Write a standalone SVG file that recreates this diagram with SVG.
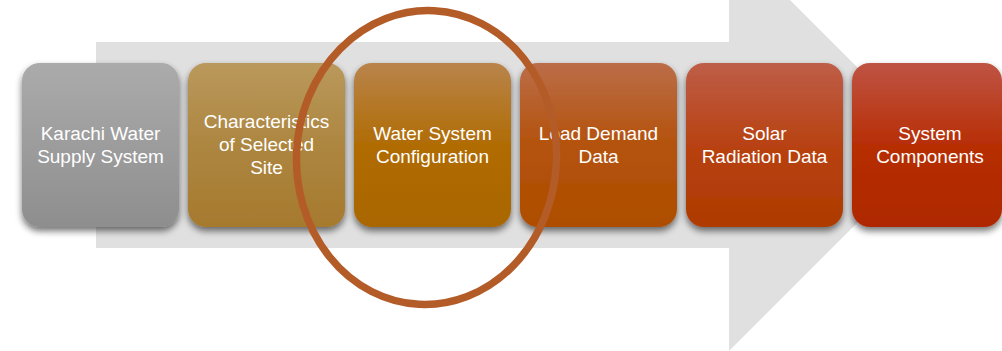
<svg xmlns="http://www.w3.org/2000/svg" width="1002" height="351" viewBox="0 0 1002 351">
  <defs>
    <linearGradient id="g1" x1="0" y1="0" x2="0" y2="1">
      <stop offset="0" stop-color="#ababab"/>
      <stop offset="1" stop-color="#8e8e8e"/>
    </linearGradient>
    <linearGradient id="g2" x1="0" y1="0" x2="0" y2="1">
      <stop offset="0" stop-color="#ba995c"/>
      <stop offset="0.5" stop-color="#ad8640"/>
      <stop offset="1" stop-color="#a67a2e"/>
    </linearGradient>
    <linearGradient id="g3" x1="0" y1="0" x2="0" y2="1">
      <stop offset="0" stop-color="#b9844c"/>
      <stop offset="0.5" stop-color="#b06c04"/>
      <stop offset="1" stop-color="#aa6600"/>
    </linearGradient>
    <linearGradient id="g4" x1="0" y1="0" x2="0" y2="1">
      <stop offset="0" stop-color="#bb6d48"/>
      <stop offset="0.5" stop-color="#b4520c"/>
      <stop offset="1" stop-color="#ae4e00"/>
    </linearGradient>
    <linearGradient id="g5" x1="0" y1="0" x2="0" y2="1">
      <stop offset="0" stop-color="#be5e48"/>
      <stop offset="0.5" stop-color="#b84212"/>
      <stop offset="1" stop-color="#ae3a00"/>
    </linearGradient>
    <linearGradient id="g6" x1="0" y1="0" x2="0" y2="1">
      <stop offset="0" stop-color="#bf5444"/>
      <stop offset="0.5" stop-color="#b72e06"/>
      <stop offset="1" stop-color="#ae2800"/>
    </linearGradient>
    <filter id="shadow" x="-20%" y="-20%" width="140%" height="150%">
      <feGaussianBlur in="SourceAlpha" stdDeviation="3.5"/>
      <feOffset dx="0" dy="4" result="b"/>
      <feComponentTransfer>
        <feFuncA type="linear" slope="0.55"/>
      </feComponentTransfer>
      <feMerge>
        <feMergeNode/>
        <feMergeNode in="SourceGraphic"/>
      </feMerge>
    </filter>
  </defs>
  <style>
    .box { filter: url(#shadow); }
    .label { font-family: "Liberation Sans", Arial, sans-serif; font-size: 19px; fill: #ffffff; text-anchor: middle; }
  </style>

  <!-- background process arrow -->
  <path id="arrow" d="M96,42 L729,42 L729,-61 L935,145 L729,351 L729,248 L96,248 Z" fill="#e0e0e0"/>

  <g id="node-karachi">
    <rect class="box" x="22" y="63" width="157" height="164" rx="18" fill="url(#g1)"/>
    <text class="label" x="100.5" y="140">Karachi Water</text>
    <text class="label" x="100.5" y="163">Supply System</text>
  </g>

  <g id="node-site">
    <rect class="box" x="188" y="63" width="157" height="164" rx="18" fill="url(#g2)"/>
    <text class="label" x="266.5" y="128">Characteristics</text>
    <text class="label" x="266.5" y="151">of Selected</text>
    <text class="label" x="266.5" y="174">Site</text>
  </g>

  <g id="node-config">
    <rect class="box" x="354" y="63" width="157" height="164" rx="18" fill="url(#g3)"/>
    <text class="label" x="432.5" y="140">Water System</text>
    <text class="label" x="432.5" y="163">Configuration</text>
  </g>

  <g id="node-load">
    <rect class="box" x="520" y="63" width="157" height="164" rx="18" fill="url(#g4)"/>
    <text class="label" x="598.5" y="140">Load Demand</text>
    <text class="label" x="598.5" y="163">Data</text>
  </g>

  <g id="node-solar">
    <rect class="box" x="686" y="63" width="157" height="164" rx="18" fill="url(#g5)"/>
    <text class="label" x="764.5" y="140">Solar</text>
    <text class="label" x="764.5" y="163">Radiation Data</text>
  </g>

  <g id="node-components">
    <rect class="box" x="852" y="63" width="150" height="164" rx="18" fill="url(#g6)"/>
    <text class="label" x="930" y="140">System</text>
    <text class="label" x="930" y="163">Components</text>
  </g>

  <!-- highlight ring around the current step -->
  <g id="connectors">
    <ellipse cx="426.5" cy="157.5" rx="130" ry="147" transform="rotate(3 426.5 157.5)" fill="none" stroke="#b35c28" stroke-width="7.5"/>
  </g>
</svg>
